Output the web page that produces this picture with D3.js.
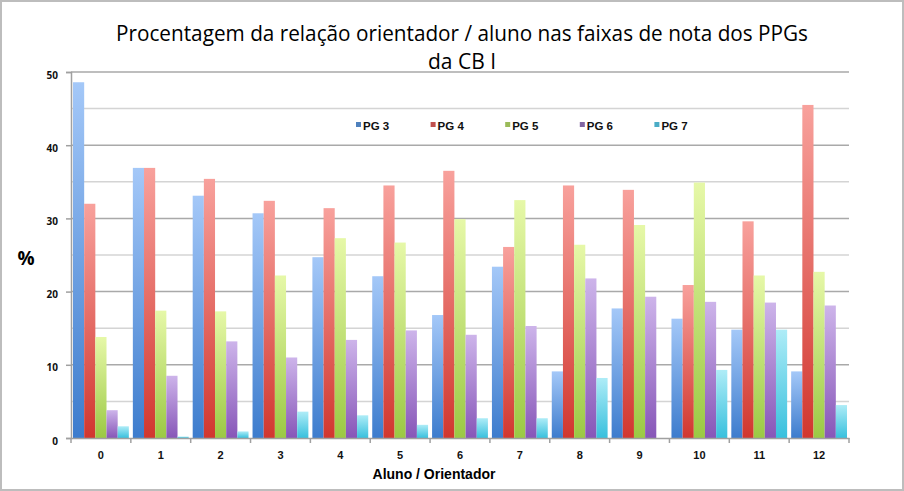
<!DOCTYPE html>
<html><head><meta charset="utf-8">
<script src="https://cdn.jsdelivr.net/npm/d3@7/dist/d3.min.js"></script>
<style>body{margin:0;background:#fff}svg{display:block}</style>
</head><body>
<svg id="chart" width="904" height="491"></svg>
<script>
const categories = ["0","1","2","3","4","5","6","7","8","9","10","11","12"];
const seriesNames = ["PG 3","PG 4","PG 5","PG 6","PG 7"];
const pg3 = [48.6,36.9,33.1,30.7,24.7,22.1,16.8,23.4,9.1,17.7,16.3,14.8,9.1];
const pg4 = [32.0,36.9,35.4,32.4,31.4,34.5,36.5,26.1,34.5,33.9,20.9,29.6,45.5];
const pg5 = [13.8,17.4,17.3,22.2,27.3,26.7,29.9,32.5,26.4,29.1,34.9,22.2,22.7];
const pg6 = [3.8,8.5,13.2,11.0,13.4,14.7,14.1,15.3,21.8,19.3,18.6,18.5,18.1];
const pg7 = [1.6,0.2,0.9,3.6,3.1,1.8,2.7,2.7,8.2,0,9.3,14.8,4.5];
const yTicks = [0,10,20,30,40,50];
const seriesValues = [pg3,pg4,pg5,pg6,pg7];

const colors = [
  {top:"#a4c8f8", bot:"#3d7ccd", key:"#4f81bd"},
  {top:"#f8a19c", bot:"#d1372f", key:"#c0504d"},
  {top:"#e6f8a8", bot:"#9bc944", key:"#9bbb59"},
  {top:"#cdb4ea", bot:"#8756b8", key:"#8064a2"},
  {top:"#aeecf7", bot:"#38c0dd", key:"#4bacc6"}
];

const svg = d3.select("#chart");
svg.append("rect").attr("x",1).attr("y",1).attr("width",902).attr("height",489)
  .attr("fill","#fff").attr("stroke","#bdbdbd").attr("stroke-width",2);

const defs = svg.append("defs");
colors.forEach((c,i)=>{
  const g = defs.append("linearGradient").attr("id","g"+i).attr("x1",0).attr("y1",0).attr("x2",0).attr("y2",1);
  g.append("stop").attr("offset","0%").attr("stop-color",c.top);
  g.append("stop").attr("offset","100%").attr("stop-color",c.bot);
});

const x0 = 71, x1 = 849, yTop = 72, yBot = 438;
const x = d3.scaleBand().domain(categories).range([x0,x1]).paddingInner(0.067).paddingOuter(0.0335);
const xs = d3.scaleBand().domain(seriesNames).range([0,x.bandwidth()]);
const y = d3.scaleLinear().domain([0,50]).range([yBot,yTop]);

// gridlines
const minor = d3.range(5,50,10);
svg.append("g").selectAll("line").data(minor).join("line")
  .attr("x1",x0).attr("x2",x1).attr("y1",d=>y(d)).attr("y2",d=>y(d))
  .attr("stroke","#d4d4d4").attr("stroke-width",1.5);
svg.append("g").selectAll("line").data(yTicks.filter(d=>d>0)).join("line")
  .attr("x1",x0).attr("x2",x1).attr("y1",d=>y(d)).attr("y2",d=>y(d))
  .attr("stroke","#a9a9a9").attr("stroke-width",1.5);

// bars
seriesValues.forEach((vals,si)=>{
  svg.append("g").selectAll("rect").data(vals.map((v,i)=>({c:categories[i],v})))
    .join("rect")
    .attr("x",d=>x(d.c)+xs(seriesNames[si]))
    .attr("width",xs.bandwidth())
    .attr("y",d=>y(d.v))
    .attr("height",d=>yBot-y(d.v))
    .attr("fill","url(#g"+si+")");
});

// y axis
const yAxis = d3.axisLeft(y).tickValues(yTicks).tickSize(5).tickPadding(8);
const ya = svg.append("g").attr("transform",`translate(${x0},0)`).call(yAxis);
ya.select(".domain").attr("stroke","#a0a0a0").attr("stroke-width",1.5);
ya.selectAll(".tick line").attr("stroke","#a0a0a0").attr("stroke-width",1.5);
ya.selectAll("text").attr("font-family","'Open Sans', sans-serif").attr("font-weight","bold")
  .attr("font-size",10).attr("fill","#111").attr("dy","0.6em");

// x axis
const xAxis = d3.axisBottom(x).tickSize(0).tickPadding(13);
const xa = svg.append("g").attr("transform",`translate(0,${yBot})`).call(xAxis);
xa.select(".domain").attr("stroke","#a0a0a0").attr("stroke-width",1.5);
xa.selectAll("text").attr("font-family","'Liberation Sans', Arial, sans-serif").attr("font-weight","bold")
  .attr("font-size",11).attr("fill","#111");
const bounds = categories.map(c=>x(c)-x.step()*x.paddingInner()/2).concat([x1]);
svg.append("g").selectAll("line").data(bounds).join("line")
  .attr("x1",d=>d).attr("x2",d=>d).attr("y1",yBot).attr("y2",yBot+5)
  .attr("stroke","#a0a0a0").attr("stroke-width",1.5);

// title
const title = svg.append("text").attr("text-anchor","middle").attr("font-family","'Open Sans', sans-serif")
  .attr("font-size",21).attr("fill","#000");
title.append("tspan").attr("x",462).attr("y",41).attr("textLength",692).attr("lengthAdjust","spacingAndGlyphs")
  .text("Procentagem da relação orientador / aluno nas faixas de nota dos PPGs");
title.append("tspan").attr("x",462).attr("y",69).text("da CB I");

// axis titles
svg.append("text").attr("x",26).attr("y",265).attr("text-anchor","middle")
  .attr("font-family","'Open Sans', sans-serif").attr("font-weight","bold").attr("font-size",19).text("%");
svg.append("text").attr("x",434).attr("y",479).attr("text-anchor","middle")
  .attr("font-family","'Liberation Sans', Arial, sans-serif").attr("font-weight","bold").attr("font-size",14)
  .text("Aluno / Orientador");

// legend
const lg = svg.append("g");
seriesNames.forEach((n,i)=>{
  const lx = 356 + i*74.6;
  lg.append("rect").attr("x",lx).attr("y",122).attr("width",5).attr("height",5).attr("fill",colors[i].key);
  lg.append("text").attr("x",lx+7).attr("y",130).attr("font-family","'Liberation Sans', Arial, sans-serif")
    .attr("font-weight","bold").attr("font-size",11.5).attr("fill","#111").text(n);
});
</script>
</body></html>
